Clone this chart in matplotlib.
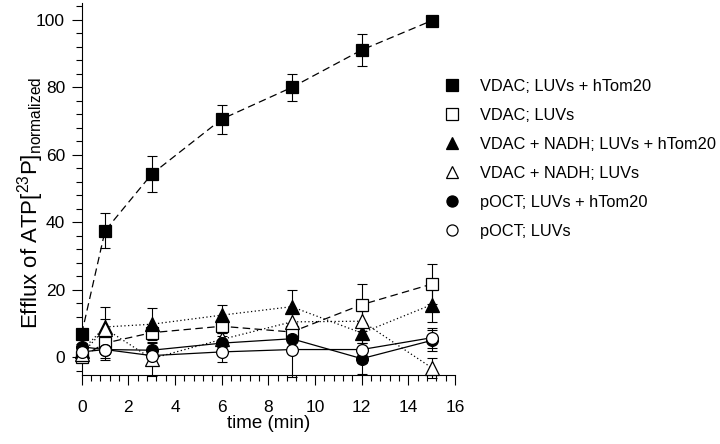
import numpy as np
import matplotlib
matplotlib.use('Agg')
import matplotlib.pyplot as plt
from matplotlib.lines import Line2D
from matplotlib.ticker import MultipleLocator

plt.rcParams['font.family'] = ['Liberation Sans', 'DejaVu Sans']
plt.rcParams['mathtext.fontset'] = 'custom'
plt.rcParams['mathtext.rm'] = 'Liberation Sans'
plt.rcParams['mathtext.it'] = 'Liberation Sans:italic'

# time points (min)
t = [0, 1, 3, 6, 9, 12, 15]

# values
vdac_tom = [7.0, 37.5, 54.3, 70.6, 80.0, 91.1, 99.8]
vdac_tom_err = [1.5, 5.2, 5.3, 4.3, 3.9, 4.6, 1.0]
vdac = [0.1, 4.2, 7.3, 9.2, 7.5, 15.6, 21.7]
vdac_err = [1.0, 2.0, 2.0, 2.0, 2.0, 6.0, 6.0]
nadh_tom = [2.0, 9.0, 9.8, 12.5, 15.0, 7.2, 15.6]
nadh_tom_err = [1.0, 6.0, 4.8, 3.0, 5.0, 3.0, 5.0]
nadh = [1.0, 8.5, -0.4, 5.3, 10.5, 10.7, -3.1]
nadh_err = [1.0, 3.0, 5.0, 2.0, 3.0, 3.0, 3.0]
poct_tom = [3.1, 2.3, 2.1, 4.2, 5.5, -0.4, 5.0]
poct_tom_err = [1.0, 2.5, 2.0, 2.0, 3.0, 4.5, 3.0]
poct = [1.6, 2.3, 0.5, 1.6, 2.3, 2.3, 5.8]
poct_err = [1.0, 3.0, 2.0, 3.0, 8.0, 4.0, 3.0]

labels = ['VDAC; LUVs + hTom20', 'VDAC; LUVs',
          'VDAC + NADH; LUVs + hTom20', 'VDAC + NADH; LUVs',
          'pOCT; LUVs + hTom20', 'pOCT; LUVs']

long_dash = (0, (6, 3.5))
dots = (0, (1, 2))
series = [
    (vdac_tom, vdac_tom_err, 's', 'black', long_dash),
    (vdac, vdac_err, 's', 'white', long_dash),
    (nadh_tom, nadh_tom_err, '^', 'black', dots),
    (nadh, nadh_err, '^', 'white', dots),
    (poct_tom, poct_tom_err, 'o', 'black', '-'),
    (poct, poct_err, 'o', 'white', '-'),
]

fig = plt.figure(figsize=(7.2, 4.44), dpi=100)
ax = fig.add_axes([0.1135, 0.155, 0.5185, 0.838])

handles = []
for (y, e, m, fc, ls), lab in zip(series, labels):
    eb = ax.errorbar(t, y, yerr=e, fmt='none', ecolor='black', elinewidth=0.8,
                     capsize=3.8, capthick=0.8, zorder=2)
    for art in eb.lines[1] + eb.lines[2]:
        art.set_clip_on(False)
    ax.plot(t, y, color='black', linestyle=ls, linewidth=0.9,
            marker=m, markersize=8.5 if m != '^' else 9.5,
            markerfacecolor=fc, markeredgecolor='black',
            markeredgewidth=0.9, zorder=3, clip_on=False)
    handles.append(Line2D([], [], linestyle='none', marker=m,
                          markersize=8 if m != '^' else 9,
                          markerfacecolor=fc, markeredgecolor='black',
                          markeredgewidth=0.9, label=lab))

ax.set_xlim(0, 16)
ax.set_ylim(-5.3, 105)
ax.xaxis.set_major_locator(MultipleLocator(2))
ax.xaxis.set_minor_locator(MultipleLocator(0.4))
ax.yaxis.set_major_locator(MultipleLocator(20))
ax.yaxis.set_minor_locator(MultipleLocator(4))
ax.tick_params(which='major', direction='out', length=7, width=0.8,
               labelsize=12.5)
ax.tick_params(axis='x', which='major', pad=11)
ax.tick_params(axis='y', which='major', pad=5)
ax.tick_params(which='minor', direction='out', length=4, width=0.8)
ax.spines['top'].set_visible(False)
ax.spines['right'].set_visible(False)

ax.set_xlabel('time (min)', fontsize=13.5, labelpad=0)
ax.set_ylabel(r'Efflux of ATP[$^{\mathrm{23}}$P]$_{\mathrm{normalized}}$',
              fontsize=16)
ax.yaxis.set_label_coords(-0.096, 0.463)

fig.legend(handles=handles, loc='upper left',
           bbox_to_anchor=(0.617, 0.823), frameon=False, fontsize=11.8,
           handlelength=1.0, handletextpad=1.2, labelspacing=0.86,
           borderpad=0, borderaxespad=0)

plt.savefig('out.png', dpi=100)
